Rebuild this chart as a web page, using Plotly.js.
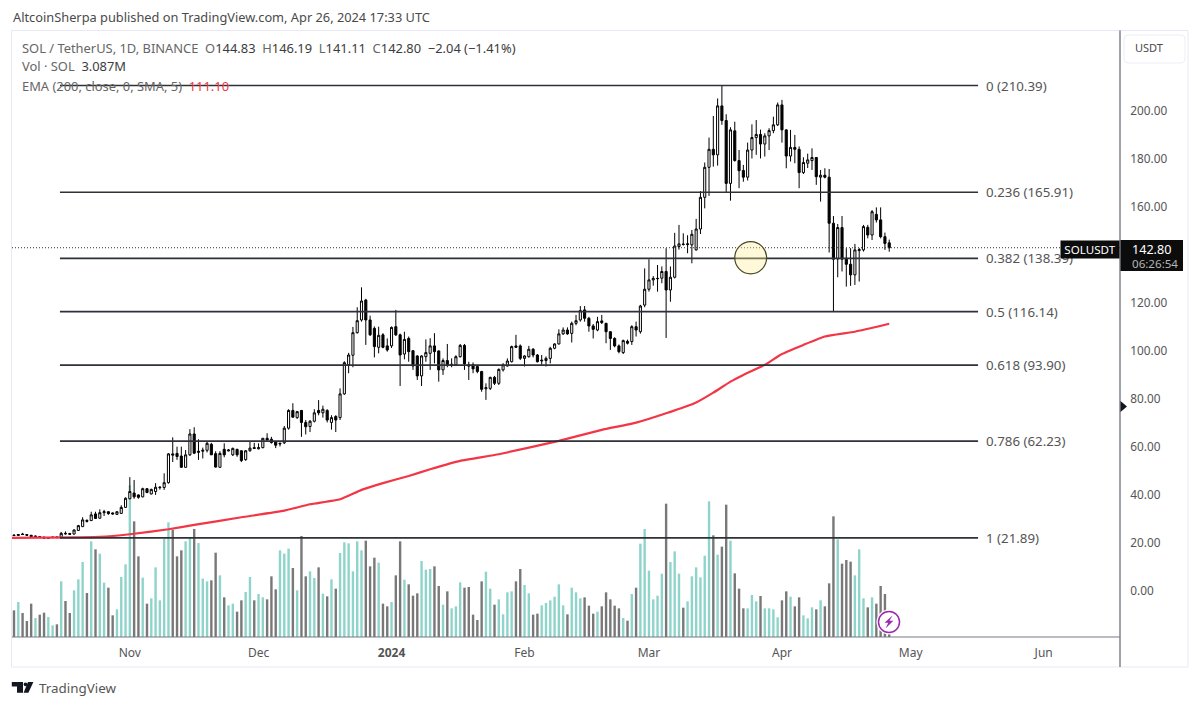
<!DOCTYPE html>
<html>
<head>
<meta charset="utf-8">
<script src="https://cdn.plot.ly/plotly-3.0.1.min.js"></script>
<style>html,body{margin:0;padding:0;background:#fff}#chart{width:1200px;height:707px}</style>
</head>
<body>
<div id="chart"></div>
<script>
// Daily SOL/USDT candles, first session 2023-10-05
const firstDay = [2023, 9, 5];
const open = [23.1,22.9,23.5,23.3,23,22.4,22.4,22.2,21.7,22,22.3,22.2,23.8,23.7,23.5,25,26.6,29.2,29.1,31.9,30.1,32.4,32.8,32.3,31.7,32.1,34.6,38.2,40.6,39.8,39,42.4,40.2,41.2,42.8,42.9,
44.9,56.9,57.1,56,51.3,56.5,65.2,57.5,58,58.4,60.9,57,51.3,58.8,58.1,56.5,58.8,58.2,54.5,58.2,59.5,59,59.5,63.4,63,62,61,61.5,67.6,75,72,75,70,68.3,
70.5,75,74,75,70,72.5,72,81.9,94,98,107.4,112.7,121,112.7,109.2,101.3,106.5,101.9,101.9,109.9,106.5,98.5,105,99.9,97.7,89.4,97.4,98.8,101.9,99.8,
91.9,95.8,93.8,94,97.4,102.1,94,94,93.3,91.2,84,84.2,88.8,86.3,91.9,93.5,95.3,101.9,101.9,96.7,97.4,100.5,98.1,95.6,95.8,96.7,100.9,102.7,106.9,108.5,
107.1,111.3,112.7,116.9,113.4,110.2,108.5,112.3,111.3,107.8,105,101.9,99.1,103.8,103.7,109.9,107.8,118.9,125.5,129.4,129.9,130.1,132.9,125.2,130.5,143.3,144.3,144.1,144,141.9,
150.6,163.8,176.3,183.8,181.5,201.9,195.8,169.6,191.5,179.1,175,172.2,183.5,188.7,190,186,189.4,191.6,194,202.3,191.9,181,184.6,183.8,174.1,178,179.1,180.4,172.2,173,
172.2,153,138.1,151.2,138.4,135.9,131.5,141.6,141.9,151.3,148.1,156.7,154.4,147.4,144.83];
const high = [23.3,23.5,24,23.5,23.1,22.9,22.7,22.4,22.2,22.4,22.5,24.4,24.6,24,25.4,27.3,30.5,29.6,32.8,32.8,33.8,33.6,33,32.5,33,35.5,38.8,47.2,46,40,42.8,42.6,42.4,44.7,43.4,48.8,
57.2,63.8,59.9,59.9,58.5,67.2,68,63,59.5,62,61.5,58,58,61.3,58.9,59.5,59,58.4,58.5,62,61.5,61.3,63.5,65.5,64,62.2,61.5,68.5,75.5,78,74.8,75.2,71,71,
75.5,79.3,77,75.5,73,73,84.2,95.5,99,109.8,118,126.3,121.5,114.5,110,109.9,107.2,105,110,116.9,107,107.8,105.8,100,98,98,104.6,105.1,107.2,100,
96.7,102.7,96.7,98,102.7,102.7,95.3,95,94,91.5,86.3,89,89.4,92.5,94.7,96.7,102,106.5,102.5,98,101.9,101,98.5,98.1,97.5,101.5,103,108.8,109.6,109.6,
112,114.8,118.5,118.5,114,111,114,114.8,111.5,108,105.5,102.5,104.5,104.5,110.5,112,119,134.2,138,131,135.6,135,142.6,135,149,152.3,148.8,148,150.2,154.8,
166.4,178.3,188.7,197.7,205,210.39,198.4,193,195.3,183.5,177.3,186.6,194.2,196,192,190.5,192.6,197.4,203.3,204.4,192.2,191.9,189.8,185,180.5,182,184.2,180.5,175.2,175.9,
175.6,156,152.7,156,142.6,142.6,144.4,142.7,152.3,152.3,158.5,159.6,159.6,149.1,146.19];
const low = [22.6,22.8,23.1,22.8,22.3,22.1,22,21.6,21.5,21.8,21.9,22,23.3,23.2,23.3,24.9,26.4,28.3,29,29.8,29.9,31,31.5,31.6,31.5,32,34.4,38,38.2,38.2,38.8,40.5,40,39.8,42,41.9,
44.5,53.5,54.4,51.1,51.1,56,56.8,54.4,55,57.5,56.5,51.2,51.2,55.5,58,56,55.7,53.5,54,57.8,58.9,58.8,59.2,62.5,61.2,59.3,60,61,67,72,71.5,64,65,66,
70,73,72,70,67,66,71,81.5,90.5,93,107,112,102.3,106,97.1,98.8,100.9,99.5,101,106,85.2,96.3,95.3,91.9,87.7,85.2,95.3,91.9,94.6,87,
89.8,93,93,93.5,97,91.9,87.7,90.5,90.5,82.8,79.4,83.5,85.6,85.6,91.2,93.3,95,101,96,93.3,97,97.1,95,94,93.3,94.6,100.5,102.5,106.5,106.5,
103.3,110.5,112,112,107.8,105,108,111,103,100.2,101.3,98.8,98.5,102.5,102.3,105.8,107,118,124.5,127,124.5,128,105.2,120.3,130,142,143.7,140.5,136.3,141.6,
148.5,159.2,164.4,176.6,177,194,165.8,162.4,178.7,167.6,170.3,170.8,180,181.5,180,180.8,183.5,190.5,193.5,186.6,175.9,178.7,178,167.6,173.5,176,175.2,169,162,171.7,
140.8,116.2,130.5,132.9,126.6,126.9,127.3,128.7,141.2,146.7,146,153.3,146.7,141.9,141.11];
const close = [22.9,23.3,23.3,23,22.4,22.6,22.2,21.8,22,22.2,22,23.8,23.6,23.4,25.2,27,29.4,28.8,31.5,30,32.4,32.8,32,31.9,32.8,34.6,38.4,41.2,39,38.8,42.4,40.8,42.1,43,43,44.9,
56.9,56.4,55.8,51.3,56.5,65.2,57.2,58,58.4,61.3,56.5,51.4,57.1,56.5,58.5,59.2,56.5,54.1,58.2,59.3,59.2,59.5,63.4,62.7,61.6,60.5,61.3,67.6,75,72.2,74.5,70,68.2,70.5,
74,74,75.5,71,72,71,81.9,94.9,98.1,107.4,112.4,120.6,112.7,106.5,101.6,106.3,101.3,100.2,109.6,106.5,98.1,104.6,99.5,93.5,89.4,97.7,99.1,101.9,99.5,91.9,
95.8,94,94.2,97.4,102.1,94.4,93.5,92.3,91.2,83.8,84.5,88.8,86.3,92.1,94,95.6,101.6,101.3,96.7,97.7,100.5,98.1,95.3,95.9,96.7,100.9,102.7,106.9,108.5,106.9,
111.3,112.4,116.6,113.4,110.2,108.8,112,111.6,107.8,105,101.9,99.5,104.1,103,109.9,108.5,118.5,125.5,129.4,130,130,132.9,125.2,130.5,143.5,144.4,144.2,144.4,148.4,150.6,
163.8,176.3,183.8,181.5,201.9,195.8,169.6,191.9,179.1,174.9,172.2,183.5,188.7,190,186,189.4,191.6,194,202.3,191.9,181,184.6,183.8,174.1,178.3,179.4,180.4,172.4,173,172.2,
153,138,151.2,138,135.9,131.5,141.9,142,151.6,148.1,157.8,154.4,147.4,144.6,142.80];
// Volume in millions of SOL
const volume = [8,10.5,7.2,4.8,10,5.7,6.7,7.3,6,3.5,3.8,16.7,10.8,7.2,14,17.3,22.5,13.2,28.7,26.3,25,16.3,14.8,6.5,8.3,18,21.8,45.5,34.7,24.2,17.8,10,11.6,20.9,11,29.5,
34.4,32.2,24.2,26,28.7,30,32.4,28.2,17.5,16.7,17,25.3,18.5,11.9,9.5,10,7.6,11,13.5,18,11,12.9,11.9,11.3,18.2,14.3,26,25,26.5,20.7,14,30.3,18.2,19.7,
17.7,20.9,13,12.2,17.3,14.5,25.2,28.4,28.1,19.7,28.7,26,28.9,21.2,23.8,22.3,10,9.2,10.5,18.5,28.7,17.2,15.8,12.4,13.1,22.8,20.2,20.4,21.2,15.3,
9.7,13.7,8.6,9.2,16.4,14.8,15,6.7,5.1,16.7,19.6,14.5,9.7,11.3,6.8,13.4,13.7,16.7,20.4,15.6,13.1,6.7,7,9.5,10.2,11,12.1,15.8,9.5,6.8,
14.8,13.4,11.6,11.9,9.4,7,7.6,9.2,13.4,11.3,9.4,8.6,5.7,4.9,12.9,14.8,28,32.4,19.9,11.3,12.4,19,40,22.5,25.7,19,8.8,10.7,18.2,20.9,
17.9,24.4,40.7,30.5,24.7,27.1,39.7,28.9,19.1,14.5,8.6,8.6,12.6,10.7,12.3,8.6,8.6,8.3,5.9,11,13.7,12.1,9.2,11.9,6.5,5.6,8.9,8.3,11,9.2,
16.1,36.2,29.3,22,23.1,22.6,18.5,26.3,11.6,8.9,11.9,10,15.3,12.9,3.087];
const lastPrice = 142.80;
// EMA (200) read at a set of sessions (session number from firstDay, value)
const emaSession = [-1,14,20,27,36,42,53,63,69,76,81,86,92,97,104,113,127,137,145,152,159,163,167,170,175,179,184,189,196,204];
const emaValue = [21.9,22.1,22.3,23.4,25.5,27.3,30.5,33.25,35.9,38,41.9,44.7,47.7,50.5,54,56.75,62.3,66.9,69.9,73.8,78.3,82.4,87,89.8,94,98.5,102.3,105.8,107.8,111.1];
// Fibonacci retracement levels
const fibRatio = ['0','0.236','0.382','0.5','0.618','0.786','1'];
const fibPrice = [210.39,165.91,138.39,116.14,93.90,62.23,21.89];
const fibStart = '2023-10-15 17:00';
const fibEnd = '2024-05-16 17:00';
const fibLabelAt = '2024-05-18 02:00';
// Axes
const timeTickDates = ['2023-11-01','2023-12-01','2024-01-01','2024-02-01','2024-03-01','2024-04-01','2024-05-01','2024-06-01'];
const timeTickText = ['Nov','Dec','<b>2024</b>','Feb','Mar','Apr','May','Jun'];
const priceTicks = [0,20,40,60,80,100,120,160,180,200];
const viewStart = '2023-10-04 12:50';
const viewEnd = '2024-06-18 19:00';
const circleDate = ['2024-03-21 00:00','2024-03-28 10:00'];
const circlePrice = [131.9,145.3];

// ---- layout geometry of the page
const F = '"Noto Sans", sans-serif';
const L = 12, R = 1120, T = 31, B = 637;
const px = x => (x - L) / (R - L), py = y => (B - y) / (B - T);
const pth = pts => 'M' + pts.map(p => px(p[0]).toFixed(5) + ',' + py(p[1]).toFixed(5)).join('L') + 'Z';
const dates = open.map((_, i) => new Date(Date.UTC(firstDay[0], firstDay[1], firstDay[2] + i)).toISOString().slice(0, 10));
const up = close.map((c, i) => c >= open[i]);

const traces = [
  {type:'bar', x:dates, y:volume, yaxis:'y', width:0.56*864e5, hoverinfo:'skip', showlegend:false,
   marker:{color:up.map(u => u ? '#8fd4cb' : '#787878'), line:{width:0}}},
  {type:'candlestick', x:dates, open, high, low, close, yaxis:'y2', hoverinfo:'skip', showlegend:false, whiskerwidth:0,
   increasing:{line:{color:'#000',width:1}, fillcolor:'#fff'},
   decreasing:{line:{color:'#000',width:1}, fillcolor:'#000'}},
  {type:'scatter', mode:'lines', yaxis:'y2', x:[viewStart, viewEnd], y:[lastPrice,lastPrice], hoverinfo:'skip', showlegend:false,
   line:{color:'#333',width:1,dash:'1px,2px'}},
  {type:'scatter', mode:'lines', yaxis:'y2', hoverinfo:'skip', showlegend:false,
   x:emaSession.map(i => new Date(Date.UTC(firstDay[0], firstDay[1], firstDay[2] + i)).toISOString().slice(0,10)), y:emaValue,
   line:{color:'#f23645',width:2.2,shape:'spline',smoothing:0.4}}
];
fibPrice.forEach(p => traces.push({type:'scatter', mode:'lines', yaxis:'y2', x:[fibStart,fibEnd], y:[p,p], hoverinfo:'skip', showlegend:false,
  line:{color:'#2f3138',width:1.7}}));

const paperText = (x, y, text, size, color, extra) => Object.assign({xref:'paper', yref:'paper', x:px(x), y:py(y), text,
  showarrow:false, xanchor:'left', yanchor:'middle', font:{family:F,size,color}, borderpad:0}, extra||{});
const dk = s => `<span style="color:#3c3c3c">${s}</span>`;
const annotations = [
  paperText(11.5, 17, 'AltcoinSherpa published on TradingView.com, Apr 26, 2024 17:33 UTC', 12.8, '#4a4a4a'),
  paperText(21, 48, `SOL / TetherUS, 1D, BINANCE&#160;&#160;O${dk('144.83')}&#160;&#160;H${dk('146.19')}&#160;&#160;L${dk('141.11')}&#160;&#160;C${dk('142.80')}&#160;&#160;${dk('−2.04 (−1.41%)')}`, 12.9, '#666'),
  paperText(21, 66, `Vol · SOL&#160;&#160;${dk('3.087M')}`, 12.9, '#666'),
  paperText(21, 85.5, `EMA (200, close, 0, SMA, 5)&#160;&#160;<span style="color:#f23645">111.10</span>`, 12.9, '#666')
];
fibRatio.forEach((r, k) => annotations.push({xref:'x', yref:'y2', x:fibLabelAt, y:fibPrice[k], text:`${r} (${fibPrice[k].toFixed(2)})`,
  showarrow:false, xanchor:'left', yanchor:'middle', font:{family:F,size:13.3,color:'#555'}}));
annotations.push(
  paperText(1060, 249, 'SOLUSDT', 11.6, '#fff', {bgcolor:'#0c0c0c', width:58, height:17, align:'center'}),
  paperText(1131, 249, '142.80', 12.6, '#fff'),
  paperText(1131, 263, '06:26:54', 11.6, '#b5b5b5'),
  paperText(1134, 48, 'USDT', 11, '#4a4a4a'),
  paperText(38, 688, 'TradingView', 13.4, '#555')
);

const shapes = [
  {type:'rect', xref:'paper', yref:'paper', x0:px(11.5), x1:px(1188), y0:py(667), y1:py(30.5), line:{color:'#e8e9f5',width:1}, layer:'below'},
  {type:'line', xref:'paper', yref:'paper', x0:px(1120), x1:px(1120), y0:py(667), y1:py(30.5), line:{color:'#787b86',width:1.4}},
  {type:'line', xref:'paper', yref:'paper', x0:px(12), x1:px(1120), y0:py(637), y1:py(637), line:{color:'#787b86',width:1.2}},
  {type:'path', xref:'paper', yref:'paper', path:'M'+px(1128)+','+py(35)+'L'+px(1181)+','+py(35)+'Q'+px(1185)+','+py(35)+' '+px(1185)+','+py(39)+'L'+px(1185)+','+py(59)+'Q'+px(1185)+','+py(63)+' '+px(1181)+','+py(63)+'L'+px(1128)+','+py(63)+'Q'+px(1124)+','+py(63)+' '+px(1124)+','+py(59)+'L'+px(1124)+','+py(39)+'Q'+px(1124)+','+py(35)+' '+px(1128)+','+py(35)+'Z', line:{color:'#eceef5',width:1}, fillcolor:'#fff'},
  {type:'rect', xref:'paper', yref:'paper', x0:px(1120.5), x1:px(1183), y0:py(271), y1:py(240), line:{width:0}, fillcolor:'#0c0c0c'},
  {type:'path', xref:'paper', yref:'paper', path:pth([[1120.5,401],[1127,406.5],[1120.5,412]]), line:{width:0}, fillcolor:'#131722'},
  {type:'circle', xref:'x', yref:'y2', x0:circleDate[0], x1:circleDate[1], y0:circlePrice[0], y1:circlePrice[1], line:{color:'#4a4626',width:1.2}, fillcolor:'rgba(255,238,150,0.36)'},
  {type:'circle', xref:'paper', yref:'paper', x0:px(876.5), x1:px(901.5), y0:py(634.5), y1:py(609.5), line:{width:0}, fillcolor:'#fff'},
  {type:'circle', xref:'paper', yref:'paper', x0:px(878.5), x1:px(899.5), y0:py(632.5), y1:py(611.5), line:{color:'#9c27b0',width:1.5}, fillcolor:'#fff'},
  {type:'path', xref:'paper', yref:'paper', path:pth([[892.5,615.5],[884.5,622.8],[888.3,622.8],[885.5,628.5],[893.3,620.8],[889.5,620.8]]), line:{width:0}, fillcolor:'#9c27b0'},
  {type:'path', xref:'paper', yref:'paper', path:pth([[11.8,682],[23,682],[23,692.8],[17,692.8],[17,686.4],[11.8,686.4]]), line:{width:0}, fillcolor:'#131722'},
  {type:'circle', xref:'paper', yref:'paper', x0:px(23.6), x1:px(27.4), y0:py(686.2), y1:py(682.4), line:{width:0}, fillcolor:'#131722'},
  {type:'path', xref:'paper', yref:'paper', path:pth([[28,682],[33.4,682],[28.4,692.8],[23.6,692.8]]), line:{width:0}, fillcolor:'#131722'}
];

const layout = {
  width:1200, height:707, margin:{l:L, r:1200-R, t:T, b:707-B, pad:0},
  paper_bgcolor:'#fff', plot_bgcolor:'#fff', showlegend:false, hovermode:false, dragmode:false,
  xaxis:{type:'date', range:[viewStart, viewEnd], showgrid:false, zeroline:false, showline:false,
    rangeslider:{visible:false}, tickmode:'array', tickvals:timeTickDates, ticktext:timeTickText,
    ticks:'outside', ticklen:5, tickcolor:'rgba(0,0,0,0)', tickfont:{family:F,size:12,color:'#555'}},
  yaxis:{range:[0,181.8], visible:false, fixedrange:true},
  yaxis2:{overlaying:'y', side:'right', range:[-19.4,233.1], showgrid:false, zeroline:false, showline:false,
    tickmode:'array', tickvals:priceTicks, ticktext:priceTicks.map(v => v.toFixed(2)), ticks:'outside', ticklen:7, tickcolor:'rgba(0,0,0,0)',
    tickfont:{family:F,size:11.8,color:'#555'}},
  shapes, annotations
};
Plotly.newPlot('chart', traces, layout, {displayModeBar:false, staticPlot:true});
</script>
</body>
</html>
